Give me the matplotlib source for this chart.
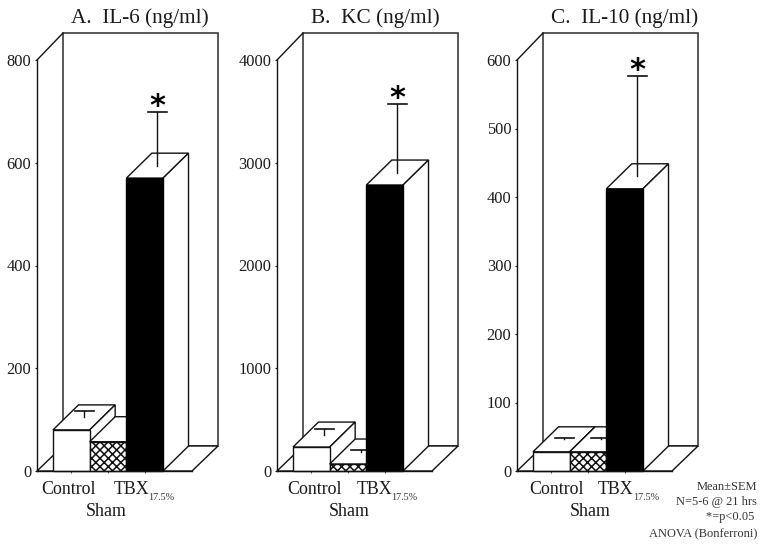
import matplotlib
matplotlib.use("Agg")
import matplotlib.pyplot as plt
from matplotlib.patches import Polygon

plt.rcParams['font.family'] = ['Liberation Serif', 'DejaVu Serif']
plt.rcParams['hatch.linewidth'] = 1.1

W, H = 764, 547
categories = ["Control", "", "TBX"]
titles = ["A.  IL-6 (ng/ml)", "B.  KC (ng/ml)", "C.  IL-10 (ng/ml)"]
il6_values = [80, 57, 570]
il6_errors = [12, 0, 105]
kc_values = [233, 68, 2783]
kc_errors = [58, 15, 670]
il10_values = [28, 28, 412]
il10_errors = [2, 2, 146]
il6_ticks = [0, 200, 400, 600, 800]
kc_ticks = [0, 1000, 2000, 3000, 4000]
il10_ticks = [0, 100, 200, 300, 400, 500, 600]
notes = ["Mean±SEM", "N=5-6 @ 21 hrs", "*=p<0.05 ", "ANOVA (Bonferroni)"]

Y0, YTOP = 471, 60       # pixel rows of zero and of the top tick
AW = 155                 # front floor width, px
BW = 36.67               # bar width, px
BAR_OFF = 16             # gap axis -> first bar, px
DX, DY = 26, 25          # depth of the box, px
BDX, BDY = 25.5, 25      # depth of a bar, px
LC = "#111111"
WALL = "#3c3c3c"
TXT = "#1a1a1a"

fig = plt.figure(figsize=(W / 100, H / 100), dpi=100, facecolor="white")


def panel(left, title, values, errors, ticks, title_cx, off_ctrl, off_tbx, off_sub, off_sham):
    ax = fig.add_axes([left / W, 1 - Y0 / H, AW / W, (Y0 - YTOP) / H])
    ax.patch.set_visible(False)
    x0 = -0.5 - BAR_OFF / BW
    ax.set_xlim(x0, x0 + AW / BW)
    ax.set_ylim(ticks[0], ticks[-1])
    x1 = ax.get_xlim()[1]
    ymax = ticks[-1]
    upx = ymax / (Y0 - YTOP)   # value units per px
    dx, dy = DX / BW, DY * upx
    bdx, bdy = BDX / BW, BDY * upx
    top = (Y0 - 33) * upx

    def poly(pts, fc="white", ec=LC, z=2, lw=1.0):
        ax.add_patch(Polygon(pts, closed=True, fc=fc, ec=ec, lw=lw, zorder=z,
                             clip_on=False, joinstyle="miter"))

    # box: back wall, left wall edge, floor
    poly([(x0 + dx, dy), (x1 + dx, dy), (x1 + dx, top), (x0 + dx, top)], ec=WALL, lw=1.2, z=1)
    ax.plot([x0, x0 + dx], [ymax, top], color=LC, lw=1.0, clip_on=False, zorder=1.5)
    poly([(x0, 0), (x1, 0), (x1 + dx, dy), (x0 + dx, dy)], z=1.5)

    # painted left to right, so each bar hides the lower part of the previous side face
    for i in range(3):
        z = 3 + i
        v, e = values[i], errors[i]
        l, r = i - 0.5, i + 0.5
        poly([(l, v), (r, v), (r + bdx, v + bdy), (l + bdx, v + bdy)], z=z)
        poly([(r, 0), (r + bdx, bdy), (r + bdx, v + bdy), (r, v)], z=z)
        ax.bar(i, v, width=1, zorder=z + 0.2, lw=1.0, edgecolor="#111111" if i != 2 else "black",
               facecolor="black" if i == 2 else "white", hatch="xxxx" if i == 1 else None,
               clip_on=False)
        cx, b = i + bdx / 2, v + bdy / 2
        if e > 0:
            ax.plot([cx, cx], [b, b + e], color=LC, lw=1.0, zorder=z + 0.4, clip_on=False)
            ax.plot([cx - 0.26, cx + 0.26], [b + e, b + e], color=LC, lw=1.2,
                    zorder=z + 0.4, clip_on=False)
        if i == 2:
            ax.annotate("*", xy=(cx, b + e), xytext=(0, -9), textcoords="offset pixels",
                        ha="center", va="bottom", fontsize=22, fontweight="bold",
                        family="DejaVu Sans", color="black", zorder=9, annotation_clip=False)

    for s in ("top", "right"):
        ax.spines[s].set_visible(False)
    for s in ("left", "bottom"):
        ax.spines[s].set_linewidth(1.0)
        ax.spines[s].set_color(LC)
        ax.spines[s].set_zorder(8)
    ax.set_yticks(ticks)
    ax.tick_params(axis="y", length=1.5, width=0.8, pad=2.5, labelsize=11.8, colors=TXT)
    ax.set_xticks(range(3))
    ax.set_xticklabels([""] * 3)
    ax.tick_params(axis="x", length=1.5, width=0.6, color="#333333")

    ax.annotate(categories[0], xy=(0, 0), xytext=(off_ctrl, -23), textcoords="offset pixels",
                ha="center", va="baseline", fontsize=12.9, color=TXT, annotation_clip=False)
    ax.annotate(categories[2], xy=(2, 0), xytext=(off_tbx, -23), textcoords="offset pixels",
                ha="center", va="baseline", fontsize=12.9, color=TXT, annotation_clip=False)
    ax.annotate("17.5%", xy=(2, 0), xytext=(off_sub, -29), textcoords="offset pixels",
                ha="left", va="baseline", fontsize=7.3, color="#333333", annotation_clip=False)
    ax.annotate("Sham", xy=(1, 0), xytext=(off_sham, -45), textcoords="offset pixels",
                ha="center", va="baseline", fontsize=12.9, color=TXT, annotation_clip=False)
    fig.text(title_cx / W, 1 - 23 / H, title, ha="center", va="baseline",
             fontsize=15.3, color=TXT)


panel(37, titles[0], il6_values, il6_errors, il6_ticks, 140, -2.5, -13, 3, -2)
panel(277, titles[1], kc_values, kc_errors, kc_ticks, 375, 3.5, -10, 6, 1)
panel(517, titles[2], il10_values, il10_errors, il10_ticks, 625, 5, -9, 8, 2.5)

for row, note in zip([490, 505, 520, 537], notes):
    fig.text(757 / W, 1 - row / H, note, ha="right", va="baseline", fontsize=8.9, color="#333333")

fig.savefig("out.png", dpi=100)
